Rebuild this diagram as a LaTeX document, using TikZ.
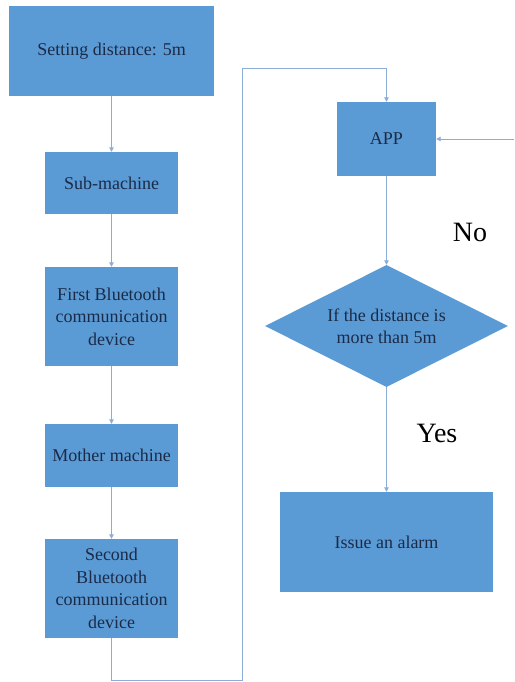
\documentclass[tikz,border=0pt]{standalone}
\usepackage{fontspec}
\setmainfont{Liberation Serif}
\usetikzlibrary{shapes.geometric,arrows.meta}
\definecolor{boxfill}{HTML}{5B9BD5}
\definecolor{boxtext}{HTML}{1B2A47}
\definecolor{linec}{HTML}{8AAED8}
\tikzset{
  blk/.style={rectangle, fill=boxfill, draw=none, text=boxtext, align=center, font=\fontsize{18}{22.5}\selectfont, inner sep=2pt},
  dec/.style={diamond, fill=boxfill, draw=none, inner sep=0pt},
  dectext/.style={text=boxtext, align=center, font=\fontsize{18}{22.5}\selectfont, inner sep=0pt},
  conn/.style={draw=linec, line width=0.9pt, -{Triangle[length=4.5pt,width=4.5pt]}},
  lbl/.style={font=\fontsize{28}{32}\selectfont, text=black}
}
\begin{document}
\begin{tikzpicture}[x=1pt,y=-1pt]
\useasboundingbox[fill=white] (0,0) rectangle (514,682);
\node[blk, minimum width=205pt, minimum height=90pt] (set) at (111.5,51) {Setting distance: 5m};
\node[blk, minimum width=133pt, minimum height=62pt] (sub) at (111.5,183) {Sub-machine};
\node[blk, minimum width=133pt, minimum height=99pt] (fbt) at (111.5,316.5) {First Bluetooth\\communication\\device};
\node[blk, minimum width=133pt, minimum height=63pt] (mom) at (111.5,455.5) {Mother machine};
\node[blk, minimum width=133pt, minimum height=99pt] (sbt) at (111.5,588.5) {Second\\Bluetooth\\communication\\device};
\node[blk, minimum width=99pt, minimum height=74pt] (app) at (386.5,139) {APP};
\node[dec, minimum width=243pt, minimum height=122pt] (dia) at (386.5,326) {};
\node[dectext] (diatext) at (dia.center) {If the distance is\\more than 5m};
\node[blk, minimum width=213pt, minimum height=100pt] (alarm) at (386.5,542) {Issue an alarm};
\node[lbl] (no) at (470,232) {No};
\node[lbl] (yes) at (437,433) {Yes};
\coordinate (c1) at (111.5,680);
\coordinate (c2) at (242,680);
\coordinate (c3) at (242,68);
\coordinate (c4) at (386.5,68);
\coordinate (rin) at (514,139);
\draw[conn] (set) -- (sub);
\draw[conn] (sub) -- (fbt);
\draw[conn] (fbt) -- (mom);
\draw[conn] (mom) -- (sbt);
\draw[conn] (sbt.south) -- (c1) -- (c2) -- (c3) -- (c4) -- (app.north);
\draw[conn] (rin) -- (app.east);
\draw[conn] (app) -- (dia.north);
\draw[conn] (dia.south) -- (alarm.north);
\end{tikzpicture}
\end{document}
